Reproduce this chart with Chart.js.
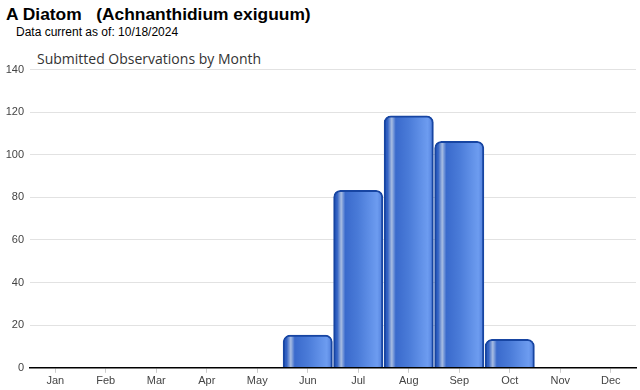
<!DOCTYPE html>
<html>
<head>
<meta charset="utf-8">
<script src="https://cdn.jsdelivr.net/npm/chart.js@4.4.1/dist/chart.umd.min.js"></script>
<style>
  body { margin: 0; background: #fff; font-family: "Liberation Sans", Arial, sans-serif; }
  #wrap { position: relative; width: 640px; height: 390px; overflow: hidden; }
  #title { position: absolute; left: 6px; top: 4px; font-size: 17.4px; font-weight: bold; color: #000; white-space: pre; }
  #updated { position: absolute; left: 16px; top: 25px; font-size: 12px; color: #000; }
  #subtitle { position: absolute; left: 37px; top: 49px; font-family: "Open Sans", sans-serif; font-size: 14px; color: #333; }
  #box { position: absolute; left: 0; top: 57px; width: 640px; height: 333px; }
</style>
</head>
<body>
<div id="wrap">
  <div id="title">A Diatom   (Achnanthidium exiguum)</div>
  <div id="updated">Data current as of: 10/18/2024</div>
  <div id="subtitle">Submitted Observations by Month</div>
  <div id="box"><canvas id="chart"></canvas></div>
</div>
<script>
// 월별 관측 데이터
const months = ['Jan', 'Feb', 'Mar', 'Apr', 'May', 'Jun', 'Jul', 'Aug', 'Sep', 'Oct', 'Nov', 'Dec'];
const observations = [0, 0, 0, 0, 0, 15, 83, 118, 106, 13, 0, 0];
const yTicks = [0, 20, 40, 60, 80, 100, 120, 140];

const BAR_PCT = 0.95;

// 막대마다 가로 그라데이션 만들기 (x 스케일에서 위치 계산)
function barFill(context) {
    const xs = context.chart.scales.x;
    if (!xs || context.dataIndex === undefined) return '#3a6ad0';
    const cx = xs.getPixelForValue(context.dataIndex);
    const w = (xs.width / months.length) * BAR_PCT + 2;
    const left = cx - w / 2;
    if (!isFinite(left) || !isFinite(w) || w <= 0) return '#3a6ad0';
    const g = context.chart.ctx.createLinearGradient(left, 0, left + w, 0);
    g.addColorStop(0, '#2050b8');
    g.addColorStop(0.08, '#3564c4');
    g.addColorStop(0.16, '#a8bde2');
    g.addColorStop(0.24, '#3a6acc');
    g.addColorStop(0.5, '#4a7bd8');
    g.addColorStop(0.88, '#6d9cf0');
    g.addColorStop(1, '#4c7ad8');
    return g;
}

new Chart(document.getElementById('chart'), {
    type: 'bar',
    data: {
        labels: months,
        datasets: [{
            data: observations,
            backgroundColor: barFill,
            borderColor: '#1745a2',
            borderWidth: 2,
            borderSkipped: 'bottom',
            borderRadius: { topLeft: 7, topRight: 7, bottomLeft: 0, bottomRight: 0 },
            inflateAmount: 1,
            categoryPercentage: 1.0,
            barPercentage: BAR_PCT
        }]
    },
    options: {
        responsive: true,
        maintainAspectRatio: false,
        animation: false,
        layout: { padding: { top: 3, right: 4, left: 0, bottom: 0 } },
        plugins: {
            legend: { display: false },
            tooltip: { enabled: false }
        },
        scales: {
            x: {
                grid: { display: true, drawOnChartArea: false, offset: false, tickLength: 5, color: '#cccccc' },
                border: { display: true, color: '#000', width: 1.5, z: 1 },
                ticks: { color: '#444', font: { family: 'Liberation Sans', size: 11 }, padding: 2 }
            },
            y: {
                min: 0,
                max: 140,
                afterBuildTicks: scale => { scale.ticks = yTicks.map(v => ({ value: v })); },
                afterFit: scale => { scale.width = 30; },
                grid: { color: '#e2e2e2', drawTicks: false },
                border: { display: false },
                ticks: { color: '#444', font: { family: 'Liberation Sans', size: 11 }, padding: 6 }
            }
        }
    }
});
</script>
</body>
</html>
